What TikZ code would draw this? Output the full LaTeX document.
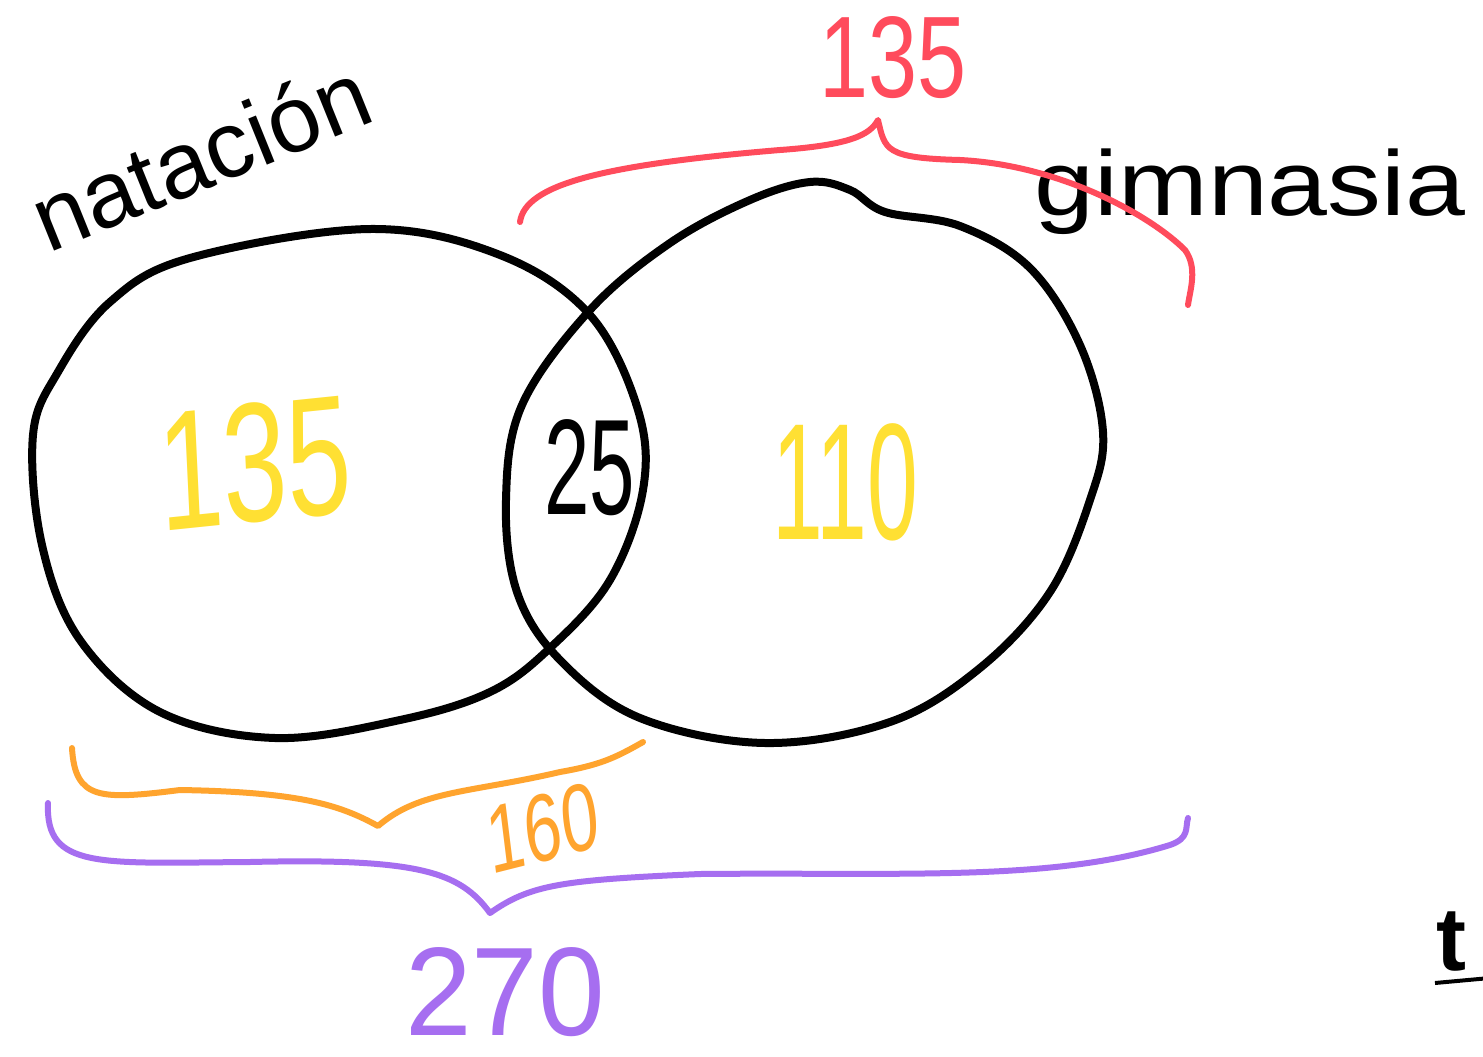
\documentclass[tikz,border=0pt]{standalone}
\usepackage{fontspec}
\setmainfont{Liberation Sans}
\definecolor{hred}{HTML}{FF4B5C}
\definecolor{hyel}{HTML}{FFE033}
\definecolor{horg}{HTML}{FFA42E}
\definecolor{hpur}{HTML}{A66EF0}
\tikzset{
  ring/.style={line width=8pt, line cap=round, line join=round, draw=black},
  bracestroke/.style={line width=6pt, line cap=round, line join=round},
  lbl/.style={inner sep=0pt, anchor=center},
}
\newcommand{\fs}[1]{\fontsize{#1}{#1}\selectfont}
\begin{document}
\begin{tikzpicture}[x=1pt,y=-1pt]
\useasboundingbox (0,0) rectangle (1483,1057);
\clip (0,0) rectangle (1483,1057);
\fill[white] (0,0) rectangle (1483,1057);

% left set (natacion)
\draw[ring] plot[smooth cycle, tension=0.6] coordinates {
 (190,258) (370,229) (500,255) (590,315) (638,410) (643,490) (610,580)
 (550,648) (490,692) (400,720) (275,738) (160,712) (80,640) (42,545)
 (33,435) (58,372) (110,302)};
% right set (gimnasia)
\draw[ring] plot[smooth cycle, tension=0.6] coordinates {
 (810,182) (850,190) (885,212) (960,226) (1030,268) (1080,345) (1103,432)
 (1090,500) (1050,592) (980,668) (890,722) (765,743) (640,718) (560,660)
 (517,592) (506,500) (522,405) (590,310) (670,243) (750,200)};

% labels of the sets
\node[lbl, rotate=22] (nat) at (200,155) {\fs{94}natación};
\node[lbl, xscale=1.17] (gim) at (1250,192) {\fs{92}gimnasia};

% region numbers
\node[lbl, text=hyel, xscale=0.68, rotate=4] (n135) at (255,463) {\fs{170}135};
\node[lbl, text=black, xscale=0.6] (n25) at (590,468) {\fs{136}25};
\node[lbl, text=hyel, xscale=0.55] (n110) at (845,482) {\fs{166}110};

% red brace (gimnasia total)
\coordinate (rA) at (520,222);
\coordinate (rT) at (878,120);
\coordinate (rB) at (1188,305);
\draw[bracestroke, hred] (rA) .. controls (525,185) and (600,165) .. (780,150)
  .. controls (850,145) and (870,135) .. (rT)
  .. controls (885,150) and (885,158) .. (960,160)
  .. controls (1060,165) and (1150,215) .. (1185,250)
  .. controls (1198,268) and (1190,290) .. (rB);
\node[lbl, text=hred, xscale=0.76] (r135) at (893,58) {\fs{116}135};

% orange brace (natacion total)
\coordinate (oA) at (72,748);
\coordinate (oT) at (378,826);
\coordinate (oB) at (643,742);
\draw[bracestroke, horg] (oA) .. controls (75,800) and (100,800) .. (180,790)
  .. controls (300,792) and (340,805) .. (oT)
  .. controls (420,790) and (470,793) .. (560,772)
  .. controls (600,765) and (615,758) .. (oB);
\node[lbl, text=horg, xscale=0.7, rotate=10] (o160) at (543,828) {\fs{96}160};

% purple brace (total)
\coordinate (pA) at (48,803);
\coordinate (pT) at (490,913);
\coordinate (pB) at (1188,818);
\draw[bracestroke, hpur] (pA) .. controls (45,870) and (100,863) .. (250,862)
  .. controls (420,858) and (460,872) .. (pT)
  .. controls (530,885) and (560,880) .. (700,874)
  .. controls (900,872) and (1050,882) .. (1170,845)
  .. controls (1190,838) and (1185,828) .. (pB);
\node[lbl, text=hpur, xscale=0.95] (p270) at (505,992) {\fs{126}270};

% cut-off mark at the right edge
\node[lbl, anchor=west, font=\bfseries] (tm) at (1436,942) {\fs{90}t};
\coordinate (u1) at (1435,983);
\coordinate (u2) at (1490,978);
\draw[line width=4pt] (u1) -- (u2);
\end{tikzpicture}
\end{document}
